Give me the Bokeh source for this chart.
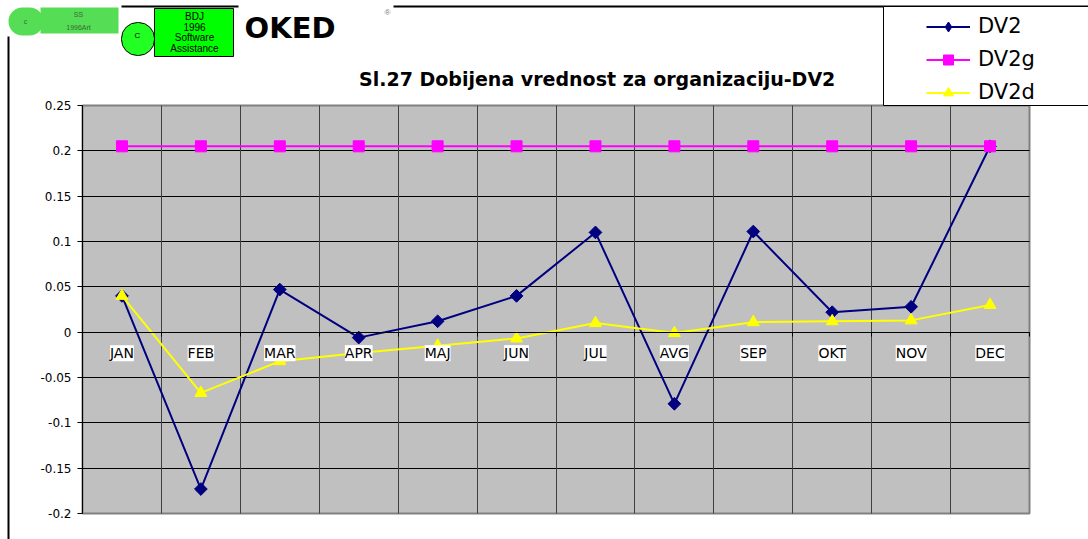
import numpy as np
from bokeh.plotting import figure
from bokeh.models import (Range1d, FixedTicker, LinearAxis, CustomJSTickFormatter, ColumnDataSource,
                          LabelSet, Label, BoxAnnotation, Legend, LegendItem, Grid)
from bokeh.embed import file_html
from bokeh.resources import INLINE
from bokeh.core.properties import value

# ---------------- data ----------------
months = ["JAN", "FEB", "MAR", "APR", "MAJ", "JUN", "JUL", "AVG", "SEP", "OKT", "NOV", "DEC"]
dv2 = [0.040, -0.173, 0.047, -0.006, 0.012, 0.040, 0.110, -0.079, 0.111, 0.022, 0.028, 0.205]
dv2g = [0.205, 0.205, 0.205, 0.205, 0.205, 0.205, 0.205, 0.205, 0.205, 0.205, 0.205, 0.205]
dv2d = [0.040, -0.067, -0.032, -0.023, -0.015, -0.007, 0.010, -0.001, 0.011, 0.012, 0.013, 0.030]
y_ticks = [-0.2, -0.15, -0.1, -0.05, 0, 0.05, 0.1, 0.15, 0.2, 0.25]
series_names = ["DV2", "DV2g", "DV2d"]
title_text = "Sl.27  Dobijena vrednost za organizaciju-DV2"
logo_lines = ["BDJ", "1996", "Software", "Assistance"]

# ---------------- layout (pixels) ----------------
W, H = 1088, 539
PL, PT, PR, PB = 82, 105, 1029, 513      # plot area edges in canvas pixels
DEJAVU = "DejaVu Sans"
ARIAL = "Liberation Sans"

n = len(months)
ymin, ymax = y_ticks[0], y_ticks[-1]
kx = (PR - PL) / n
ky = (PB - PT) / (ymax - ymin)
x_range = Range1d(-PL / kx, n + (W - PR) / kx)
y_range = Range1d(ymin - (H - PB) / ky, ymax + PT / ky)


def fx(x):
    return x


def fy(y):
    return H - y


x = [i + 0.5 for i in range(n)]
src = ColumnDataSource(dict(x=x, month=months, dv2=dv2, dv2g=dv2g, dv2d=dv2d, zero=[0] * n))

p = figure(width=W, height=H, output_backend="svg", toolbar_location=None,
           x_range=x_range, y_range=y_range, x_axis_type=None, y_axis_type=None,
           min_border=0, background_fill_color="white", border_fill_color="white")
p.outline_line_color = None

# plot area (gray)
p.quad(left=0, right=n, bottom=ymin, top=ymax, fill_color="#C0C0C0",
       line_color="#808080", line_width=2, level="image")

# grids
inner_y = y_ticks[1:-1]
inner_x = list(range(1, n))
try:
    hg = Grid(dimension=1, ticker=FixedTicker(ticks=inner_y), grid_line_color="black",
              grid_line_width=1, cross_bounds=(0, n))
    vg = Grid(dimension=0, ticker=FixedTicker(ticks=inner_x), grid_line_color="#404040",
              grid_line_width=1, cross_bounds=(ymin, ymax))
    p.add_layout(hg)
    p.add_layout(vg)
except Exception:
    p.segment(x0=[0] * len(inner_y), x1=[n] * len(inner_y), y0=inner_y, y1=inner_y,
              line_color="black", line_width=1, level="underlay")
    p.segment(x0=inner_x, x1=inner_x, y0=[ymin] * len(inner_x), y1=[ymax] * len(inner_x),
              line_color="#404040", line_width=1, level="underlay")

# axes (fixed location -> drawn inside canvas)
yaxis = LinearAxis(ticker=FixedTicker(ticks=y_ticks), fixed_location=0, bounds=(ymin, ymax),
                   formatter=CustomJSTickFormatter(code="return String(Math.round(tick*100)/100);"),
                   axis_line_color="black", major_tick_line_color="black",
                   major_tick_out=5, major_tick_in=0, minor_tick_out=0, minor_tick_in=0,
                   major_label_standoff=6, major_label_text_font=DEJAVU,
                   major_label_text_font_size="12px", major_label_text_color="black")
p.add_layout(yaxis, "left")
# category axis line at zero with tick marks at the category boundaries (no tick labels)
xaxis = LinearAxis(ticker=FixedTicker(ticks=[], minor_ticks=list(range(n + 1))),
                   fixed_location=0, bounds=(0, n),
                   axis_line_color="black", major_tick_out=0, major_tick_in=0,
                   minor_tick_line_color="black", minor_tick_out=4, minor_tick_in=0)
p.add_layout(xaxis, "below")

# series
r1l = p.line("x", "dv2", source=src, line_color="#000080", line_width=2)
p.scatter("x", "dv2", source=src, marker="square", angle=np.pi / 4, size=9,
          fill_color="#000080", line_color="#000080")
r2l = p.line("x", "dv2g", source=src, line_color="#FF00FF", line_width=2)
r2m = p.scatter("x", "dv2g", source=src, marker="square", size=11,
                fill_color="#FF00FF", line_color="#FF00FF")
r3l = p.line("x", "dv2d", source=src, line_color="#FFFF00", line_width=2)
r3m = p.scatter("x", "dv2d", source=src, marker="triangle", size=12,
                fill_color="#FFFF00", line_color="#FFFF00")
# legend-only diamond (a single undrawable NaN point) so the legend shows a diamond
r1leg = p.scatter(x=np.array([np.nan]), y=np.array([np.nan]), marker="diamond", size=12,
                  fill_color="#000080", line_color="#000080")

# category labels on white boxes
p.add_layout(LabelSet(x="x", y="zero", text="month", source=src, y_offset=-21,
                      text_align="center", text_baseline="middle", text_font=value(DEJAVU),
                      text_font_size="14px", text_color="black",
                      background_fill_color="white", level="overlay"))


def box(x0, y0, x1, y1, fill, line=None, lw=1, radius=0):
    b = BoxAnnotation(left=fx(x0), right=fx(x1), top=fy(y0), bottom=fy(y1),
                      left_units="screen", right_units="screen",
                      top_units="screen", bottom_units="screen",
                      fill_color=fill, fill_alpha=1.0 if fill else 0.0,
                      line_color=line, line_alpha=1.0, line_width=lw,
                      border_radius=radius, level="annotation")
    p.add_layout(b)


def text(x0, y0, t, size, font=ARIAL, color="black", bold=False, align="center"):
    p.add_layout(Label(x=fx(x0), y=fy(y0), x_units="screen", y_units="screen", text=t,
                       text_align=align, text_baseline="middle", text_font=font,
                       text_font_size=f"{size}px", text_color=color,
                       text_font_style="bold" if bold else "normal"))


# outer chart border (top and left visible)
box(8, 6, 1300, 900, None, "black", 2)
# legend frame
box(883, 6, 1300, 105, "white", "black", 1)
# logo 1 (blurred)
box(0, 0, 121, 36, "white")
box(8, 7, 43, 35, "#55DD55", None, 0, 14)
box(40, 7, 118, 33, "#55DD55")
text(25, 21, "c", 7, color="#3a6a3a")
text(78, 14, "SS", 7, color="#3a6a3a")
text(78, 27, "1996Art", 7, color="#3a6a3a")
# logo 2
box(121, 22, 154, 55, "#22FF22", "black", 1, 16)
text(137, 35, "C", 8)
box(154, 8, 233, 56, "#00FF00", "black", 1)
for i, t in enumerate(logo_lines):
    text(194, 16 + i * 10.6, t, 10)
# OKED logo
box(238, 0, 393, 12, "white")
text(244, 27, "OKED", 29, font=DEJAVU, bold=True, align="left")
text(387, 12, "\u00ae", 8, color="#808080")

# title
text(600, 78, title_text, 19, font=DEJAVU, bold=True)

# legend
legend = Legend(items=[LegendItem(label=series_names[0], renderers=[r1l, r1leg]),
                       LegendItem(label=series_names[1], renderers=[r2l, r2m]),
                       LegendItem(label=series_names[2], renderers=[r3l, r3m])],
                location=(fx(926), fy(104.5)), orientation="vertical",
                border_line_color=None, background_fill_alpha=0, padding=2, margin=0,
                spacing=8, glyph_width=44, glyph_height=25, label_height=25,
                label_standoff=8, label_text_font=DEJAVU, label_text_font_size="21px",
                label_text_color="black")
p.add_layout(legend)

open("out.html", "w").write(file_html(p, INLINE))
